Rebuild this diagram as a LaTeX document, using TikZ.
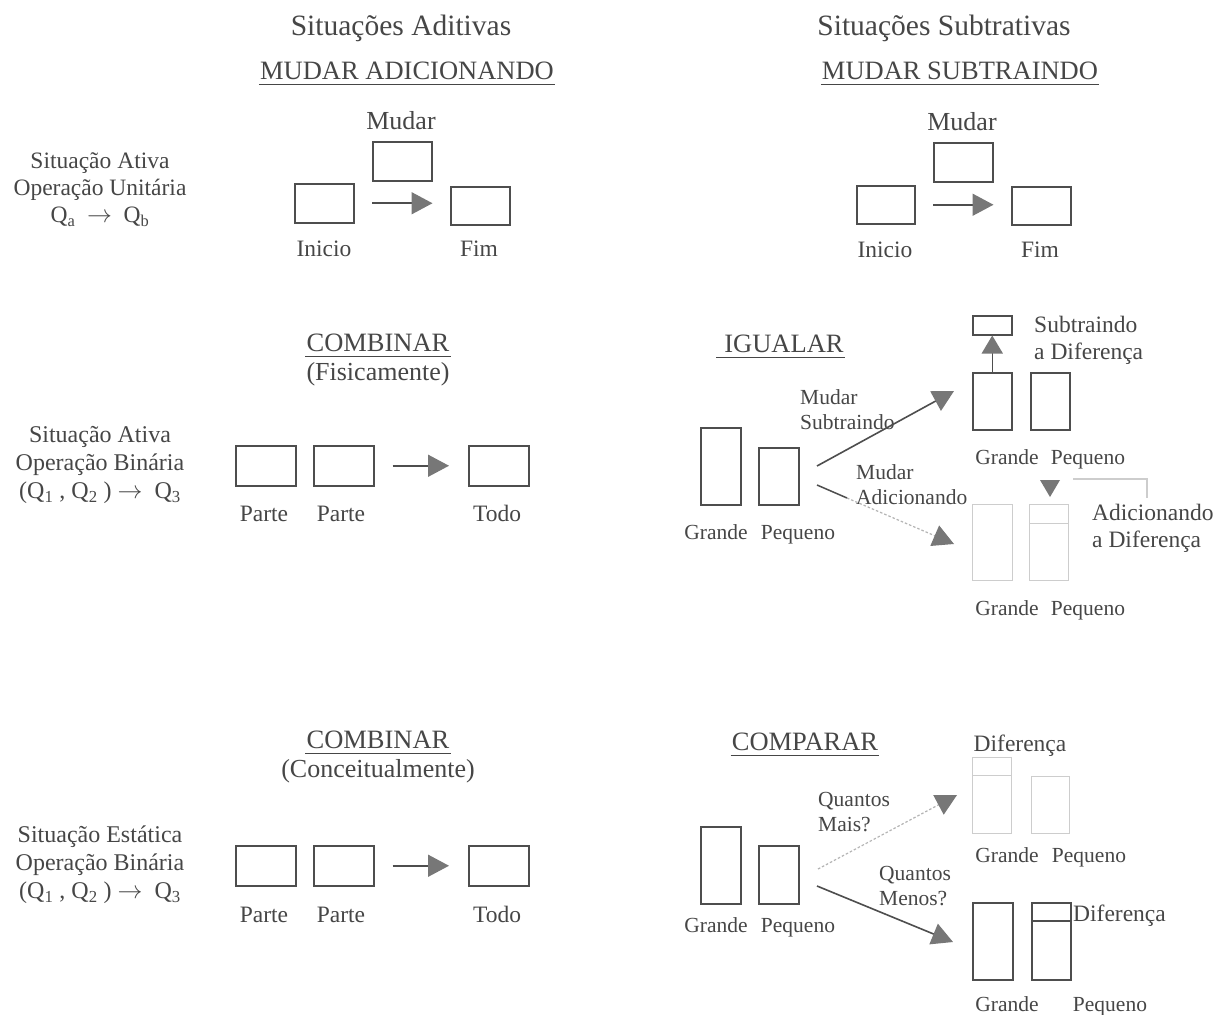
\documentclass[tikz,border=0pt]{standalone}
\usepackage{fontspec}
\setmainfont{Liberation Serif}
\usetikzlibrary{arrows.meta}
\definecolor{txt}{HTML}{464646}
\definecolor{boxc}{HTML}{4E4E4E}
\definecolor{headc}{HTML}{777777}
\definecolor{lightc}{HTML}{CDCDCD}
\definecolor{dotc}{HTML}{B4B4B4}
\tikzset{
  ttl/.style={text=txt, inner sep=0pt, font=\fontsize{29.5}{34}\selectfont},
  hd/.style={text=txt, inner xsep=1pt, inner ysep=4pt, font=\fontsize{26.5}{30}\selectfont},
  ul/.style={draw=txt, line width=1.2pt},
  sub/.style={text=txt, inner sep=0pt, font=\fontsize{26}{30}\selectfont},
  lab/.style={text=txt, inner sep=0pt, anchor=base, font=\fontsize{23.5}{27}\selectfont},
  labm/.style={text=txt, inner sep=0pt, align=left, anchor=west, font=\fontsize{23.5}{27}\selectfont},
  sml/.style={text=txt, inner sep=0pt, anchor=base, font=\fontsize{21.5}{25}\selectfont},
  smlm/.style={text=txt, inner sep=0pt, align=left, anchor=west, font=\fontsize{21.5}{25}\selectfont},
  side/.style={text=txt, inner sep=0pt, align=center, font=\fontsize{24}{28}\selectfont},
  bx/.style={draw=boxc, line width=1.5pt, inner sep=0pt, anchor=north west},
  lbx/.style={draw=lightc, line width=1pt, inner sep=0pt, anchor=north west},
  sz/.style 2 args={minimum width=#1pt, minimum height=#2pt},
  tip/.style={-{Triangle[length=21pt,width=22pt,color=headc]}},
  arr/.style={draw=boxc, line width=1.6pt, tip},
  darr/.style={draw=dotc, line width=1.2pt, dash pattern=on 2.5pt off 2pt, tip},
}
\begin{document}
\begin{tikzpicture}[x=1pt,y=-1pt]
\useasboundingbox (0,0) rectangle (1217,1014);
\fill[white] (0,0) rectangle (1217,1014);

% ---------- titles ----------
\node[ttl] (t-add) at (401,28) {Situações Aditivas};
\node[ttl] (t-sub) at (944,28) {Situações Subtrativas};

% ---------- MUDAR ADICIONANDO ----------
\node[hd] (h-madd) at (407,71) {MUDAR ADICIONANDO};
\draw[ul] (h-madd.south west) -- (h-madd.south east);
\node[side, font=\fontsize{23.5}{27}\selectfont] (s1) at (100,190) {Situação Ativa\\Operação Unitária\\Q\textsubscript{a}~ $\rightarrow$ ~Q\textsubscript{b}};
\node[bx,sz={59}{39}] (a-mud) at (372,141) {};
\node[bx,sz={59}{39}] (a-ini) at (294,183) {};
\node[bx,sz={59}{38}] (a-fim) at (450,186) {};
\draw[arr] (a-ini.east -| a-mud.west) -- (a-ini.east -| a-mud.east);
\node[sub] (a-mudl) at (401,121) {Mudar};
\node[lab] (a-inil) at (324,256) {Inicio};
\node[lab] (a-fiml) at (479,256) {Fim};

% ---------- MUDAR SUBTRAINDO ----------
\node[hd] (h-msub) at (960,71) {MUDAR SUBTRAINDO};
\draw[ul] (h-msub.south west) -- (h-msub.south east);
\node[bx,sz={59}{39}] (b-mud) at (933,142) {};
\node[bx,sz={58}{38}] (b-ini) at (856,185) {};
\node[bx,sz={59}{38}] (b-fim) at (1011,186) {};
\draw[arr] (b-ini.east -| b-mud.west) -- (b-ini.east -| b-mud.east);
\node[sub] (b-mudl) at (962,122) {Mudar};
\node[lab] (b-inil) at (885,257) {Inicio};
\node[lab] (b-fiml) at (1040,257) {Fim};

% ---------- COMBINAR (Fisicamente) ----------
\node[hd] (h-cf) at (378,343) {COMBINAR};
\draw[ul] (h-cf.south west) -- (h-cf.south east);
\node[sub] (h-cf2) at (378,374) {(Fisicamente)};
\node[side] (s2) at (100,465) {Situação Ativa\\Operação Binária\\(Q\textsubscript{1} , Q\textsubscript{2} )~$\rightarrow$~~Q\textsubscript{3}};
\node[bx,sz={60}{40}] (c-p1) at (235,445) {};
\node[bx,sz={60}{40}] (c-p2) at (313,445) {};
\node[bx,sz={60}{40}] (c-todo) at (468,445) {};
\draw[arr, shorten <=18pt, shorten >=19pt] (c-p2.east) -- (c-todo.west);
\node[lab] (c-p1l) at (264,521) {Parte};
\node[lab] (c-p2l) at (341,521) {Parte};
\node[lab] (c-todol) at (497,521) {Todo};

% ---------- COMBINAR (Conceitualmente) ----------
\node[hd] (h-cc) at (378,740) {COMBINAR};
\draw[ul] (h-cc.south west) -- (h-cc.south east);
\node[sub] (h-cc2) at (378,771) {(Conceitualmente)};
\node[side] (s3) at (100,865) {Situação Estática\\Operação Binária\\(Q\textsubscript{1} , Q\textsubscript{2} )~$\rightarrow$~~Q\textsubscript{3}};
\node[bx,sz={60}{40}] (d-p1) at (235,845) {};
\node[bx,sz={60}{40}] (d-p2) at (313,845) {};
\node[bx,sz={60}{40}] (d-todo) at (468,845) {};
\draw[arr, shorten <=18pt, shorten >=19pt] (d-p2.east) -- (d-todo.west);
\node[lab] (d-p1l) at (264,922) {Parte};
\node[lab] (d-p2l) at (341,922) {Parte};
\node[lab] (d-todol) at (497,922) {Todo};

% ---------- IGUALAR ----------
\node[hd] (h-ig) at (784,344) {IGUALAR};
\draw[ul] ([xshift=-7pt]h-ig.south west) -- (h-ig.south east);
\node[bx,sz={40}{77}] (e-g) at (700,427) {};
\node[bx,sz={40}{57}] (e-p) at (758,447) {};
\node[sml] (e-gl) at (716,539) {Grande};
\node[sml] (e-pl) at (798,539) {Pequeno};
\node[smlm] (e-ms) at (800,410) {Mudar\\Subtraindo};
\node[smlm] (e-ma) at (856,485) {Mudar\\Adicionando};
\coordinate (e-s1) at (817,466);
\coordinate (e-t1) at (954,391);
\coordinate (e-s2) at (817,485);
\coordinate (e-m2) at (847,498);
\coordinate (e-t2) at (954,544);
\draw[arr] (e-s1) -- (e-t1);
\draw[boxc, line width=1.5pt] (e-s2) -- (e-m2);
\draw[darr] (e-m2) -- (e-t2);
% subtracting the difference
\node[bx,sz={39}{19}] (f-dif) at (972,315) {};
\node[bx,sz={39}{57}] (f-g) at (972,372) {};
\node[bx,sz={39}{57}] (f-p) at (1030,372) {};
\draw[draw=boxc, line width=1.5pt, -{Triangle[length=18pt,width=21pt,color=headc]}] (f-g.north) -- (f-dif.south);
\node[labm] (f-txt) at (1034,340) {Subtraindo\\a Diferença};
\node[sml] (f-gl) at (1007,464) {Grande};
\node[sml] (f-pl) at (1088,464) {Pequeno};
% adding the difference
\node[lbx,sz={40}{76}] (g-g) at (972,504) {};
\node[lbx,sz={39}{76}] (g-p) at (1029,504) {};
\draw[lightc, line width=1pt] (g-p.west |- 0,523) -- (g-p.east |- 0,523);
\fill[headc] (1040,480) -- (1060,480) -- (1050,497) -- cycle;
\draw[lightc, line width=1.2pt] (1073,479) -- (1147,479) -- (1147,498);
\node[labm] (g-txt) at (1092,528) {Adicionando\\a Diferença};
\node[sml] (g-gl) at (1007,615) {Grande};
\node[sml] (g-pl) at (1088,615) {Pequeno};

% ---------- COMPARAR ----------
\node[hd] (h-cp) at (805,742) {COMPARAR};
\draw[ul] (h-cp.south west) -- (h-cp.south east);
\node[bx,sz={40}{77}] (k-g) at (700,826) {};
\node[bx,sz={40}{58}] (k-p) at (758,845) {};
\node[sml] (k-gl) at (716,932) {Grande};
\node[sml] (k-pl) at (798,932) {Pequeno};
\node[smlm] (k-qm) at (818,812) {Quantos\\Mais?};
\node[smlm] (k-qn) at (879,886) {Quantos\\Menos?};
\coordinate (k-s1) at (818,869);
\coordinate (k-t1) at (957,795);
\coordinate (k-s2) at (817,886);
\coordinate (k-t2) at (953,942);
\draw[darr] (k-s1) -- (k-t1);
\draw[arr] (k-s2) -- (k-t2);
% upper result
\node[lab] (m-dif) at (1020,751) {Diferença};
\node[lbx,sz={39}{76}] (m-g) at (972,757) {};
\draw[lightc, line width=1pt] (m-g.west |- 0,775) -- (m-g.east |- 0,775);
\node[lbx,sz={38}{57}] (m-p) at (1031,776) {};
\node[sml] (m-gl) at (1007,862) {Grande};
\node[sml] (m-pl) at (1089,862) {Pequeno};
% lower result
\node[bx,sz={40}{77}] (n-g) at (972,902) {};
\node[bx,sz={39}{77}] (n-p) at (1031,902) {};
\draw[boxc, line width=1.5pt] (n-p.west |- 0,921) -- (n-p.east |- 0,921);
\node[lab, anchor=base west] (n-dif) at (1073,921) {Diferença};
\node[sml] (n-gl) at (1007,1011) {Grande};
\node[sml] (n-pl) at (1110,1011) {Pequeno};
\end{tikzpicture}
\end{document}
